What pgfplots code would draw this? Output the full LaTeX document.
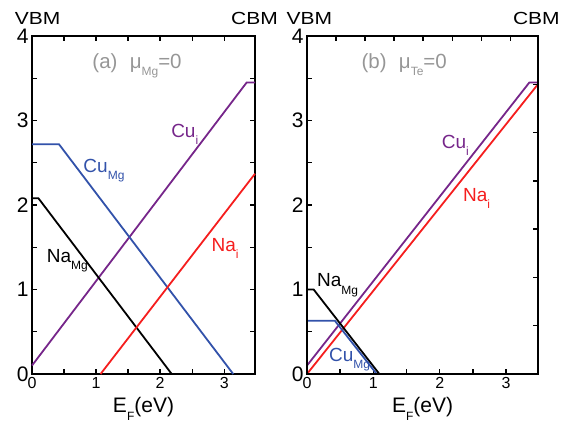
\documentclass[border=0pt]{standalone}
\usepackage{fontspec}
\setmainfont{Liberation Sans}
\newfontfamily\widefont[FakeStretch=1.2]{Liberation Sans}
\usepackage{pgfplots}
\pgfplotsset{compat=1.18}
\definecolor{cpurple}{RGB}{118,38,138}
\definecolor{cblue}{RGB}{50,82,170}
\definecolor{cred}{RGB}{245,30,30}
\definecolor{cgray}{RGB}{150,150,150}
\newcommand{\sub}[1]{\raisebox{-0.38em}{\fontsize{12}{12}\selectfont #1}}
\pgfplotsset{common/.style={scale only axis, height=338pt, xmin=0, xmax=3.48, ymin=0, ymax=4,
  axis line style={line width=2pt}, every tick/.style={line width=1.4pt, black},
  major tick length=5pt, minor tick length=5pt, clip=false,
  /pgf/number format/assume math mode=true,
  xtick={0,1,2,3}, ytick={0,1,2,3,4}, minor xtick={0.5,1.5,2.5}, minor ytick={0.5,1.5,2.5,3.5},
  yticklabel style={font=\fontsize{21}{21}\selectfont},
  xticklabel style={font=\fontsize{16}{16}\selectfont},
  xlabel={E\sub{F}(eV)}, xlabel style={font=\fontsize{21}{21}\selectfont, yshift=-2pt},
  every axis plot/.append style={line width=1.8pt, mark=none}}}
\tikzset{lab/.style={anchor=base west, font=\fontsize{19}{19}\selectfont, inner sep=0pt},
  edge/.style={font=\widefont\fontsize{17.5}{17.5}\selectfont, inner sep=0pt}}
\begin{document}
\begin{tikzpicture}
\useasboundingbox (0,0) rectangle (569pt,427pt);
% left panel
\begin{axis}[common, width=223pt, at={(32pt,53pt)}, anchor=south west]
\addplot[cpurple] coordinates {(0,0.1) (3.35,3.45) (3.48,3.45)};
\addplot[cblue] coordinates {(0,2.72) (0.42,2.72) (3.14,0)};
\addplot[black] coordinates {(0,2.08) (0.1,2.08) (2.18,0)};
\addplot[cred] coordinates {(1.07,0) (3.48,2.37)};
\node[lab, text=cgray, font=\fontsize{20.5}{20.5}\selectfont] at (axis cs:0.94,3.62) {(a)\hspace{0.6em}μ\sub{Mg}=0};
\node[lab, text=cpurple] at (axis cs:2.17,2.80) {Cu\sub{i}};
\node[lab, text=cblue] at (axis cs:0.80,2.39) {Cu\sub{Mg}};
\node[lab, text=black] at (axis cs:0.23,1.32) {Na\sub{Mg}};
\node[lab, text=cred] at (axis cs:2.80,1.45) {Na\sub{i}};
\node[edge, anchor=base west] at (axis cs:-0.27,4.14) {VBM};
\node[edge, anchor=base east] at (axis cs:3.84,4.14) {CBM};
\end{axis}
% right panel
\begin{axis}[common, width=231pt, at={(307pt,53pt)}, anchor=south west, tick pos=left]
\addplot[cpurple] coordinates {(0,0.1) (3.35,3.45) (3.48,3.45)};
\addplot[cred] coordinates {(0,0) (3.48,3.43)};
\addplot[black] coordinates {(0,1.0) (0.1,1.0) (1.09,0)};
\addplot[cblue] coordinates {(0,0.63) (0.42,0.63) (1.05,0)};
\node[lab, text=cgray, font=\fontsize{20.5}{20.5}\selectfont] at (axis cs:0.82,3.62) {(b)\hspace{0.6em}μ\sub{Te}=0};
\node[lab, text=cpurple] at (axis cs:2.03,2.67) {Cu\sub{i}};
\node[lab, text=cred] at (axis cs:2.35,2.04) {Na\sub{i}};
\node[lab, text=black] at (axis cs:0.15,1.03) {Na\sub{Mg}};
\node[lab, text=cblue] at (axis cs:0.33,0.146) {Cu\sub{Mg}};
\node[edge, anchor=base west] at (axis cs:-0.31,4.14) {VBM};
\node[edge, anchor=base east] at (axis cs:3.81,4.14) {CBM};
\end{axis}
\begin{axis}[scale only axis, width=231pt, height=338pt, at={(307pt,53pt)}, anchor=south west,
  xmin=0, xmax=3.48, ymin=0, ymax=4, tick pos=right,
  axis line style={line width=2pt}, every tick/.style={line width=1.4pt, black},
  major tick length=5pt,
  xtick={0.4375,0.875,1.3125,1.75,2.1875,2.625,3.0625},
  ytick={0.5714,1.1429,1.7143,2.2857,2.8571,3.4286},
  xticklabels={}, yticklabels={}]
\end{axis}
\end{tikzpicture}
\end{document}
